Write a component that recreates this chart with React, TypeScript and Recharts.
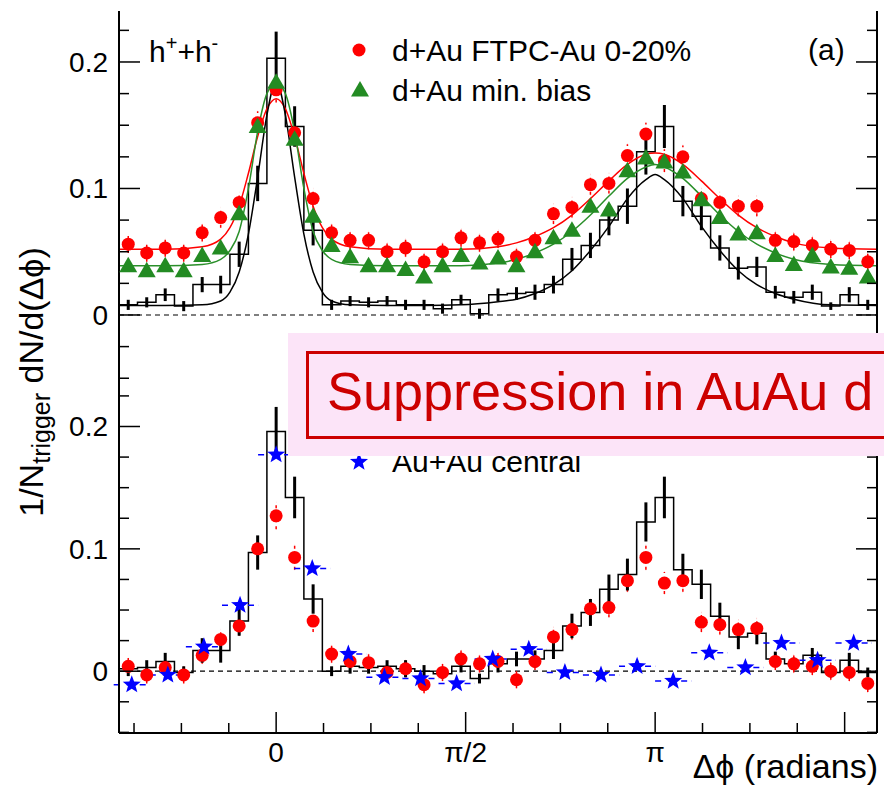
/**
 * Azimuthal correlation, d+Au vs Au+Au (two stacked panels)
 */

import React from "react";
import {
  ComposedChart,
  Scatter,
  Line,
  XAxis,
  YAxis,
  ErrorBar,
  ReferenceLine,
} from "recharts";

const FONT = '"Liberation Sans", Arial, Helvetica, sans-serif';
const PI = Math.PI;

// d+Au / p+p bins: 41 bins over 2pi, Au+Au central: 21 bins over 2pi
const BIN_W = (2 * PI) / 41;
const AA_BIN_W = (2 * PI) / 21;

const BIN_INDEX = [
  -8, -7, -6, -5, -4, -3, -2, -1, 0, 1, 2, 3, 4, 5, 6, 7, 8, 9, 10, 11, 12, 13,
  14, 15, 16, 17, 18, 19, 20, 21, 22, 23, 24, 25, 26, 27, 28, 29, 30, 31, 32,
];
const AA_BIN_INDEX = [
  -4, -3, -2, -1, 0, 1, 2, 3, 4, 5, 6, 7, 8, 9, 10, 11, 12, 13, 14, 15, 16,
];
// fit curves are read at these positions (in units of BIN_W)
const CURVE_BINS = [
  -8.5, -6, -4, -3, -2.5, -2, -1.5, -1, -0.5, 0, 0.5, 1, 1.5, 2, 2.5, 3, 4, 6,
  8, 10, 12, 13, 14, 15, 16, 17, 18, 19, 20, 20.5, 21, 22, 23, 24, 25, 26, 27,
  28, 30, 32.5,
];

// ---- panel (a), top
const TOP_FTPC = [
  0.056, 0.049, 0.053, 0.049, 0.065, 0.077, 0.089, 0.152, 0.178, 0.144, 0.092,
  0.065, 0.059, 0.059, 0.05, 0.053, 0.042, 0.05, 0.061, 0.057, 0.06, 0.046,
  0.059, 0.08, 0.085, 0.103, 0.104, 0.126, 0.143, 0.122, 0.125, 0.092, 0.089,
  0.086, 0.086, 0.059, 0.058, 0.055, 0.052, 0.051, 0.042,
];
const TOP_FTPC_ERR = [
  0.007, 0.007, 0.007, 0.007, 0.007, 0.008, 0.008, 0.009, 0.01, 0.009, 0.008,
  0.007, 0.007, 0.007, 0.007, 0.007, 0.007, 0.007, 0.007, 0.007, 0.007, 0.007,
  0.007, 0.008, 0.008, 0.008, 0.008, 0.009, 0.009, 0.009, 0.009, 0.008, 0.008,
  0.008, 0.008, 0.007, 0.007, 0.007, 0.007, 0.007, 0.007,
];
const TOP_MINBIAS = [
  0.039, 0.035, 0.039, 0.035, 0.047, 0.053, 0.08, 0.149, 0.184, 0.139, 0.078,
  0.055, 0.046, 0.039, 0.039, 0.036, 0.03, 0.039, 0.047, 0.041, 0.045, 0.039,
  0.05, 0.061, 0.067, 0.086, 0.083, 0.114, 0.124, 0.121, 0.113, 0.091, 0.077,
  0.064, 0.065, 0.047, 0.04, 0.047, 0.038, 0.037, 0.03,
];
const TOP_PP = [
  0.008, 0.01, 0.016, 0.007, 0.024, 0.024, 0.048, 0.104, 0.203, 0.149, 0.067,
  0.008, 0.011, 0.01, 0.011, 0.008, 0.008, 0.005, 0.012, 0.001, 0.016, 0.017,
  0.018, 0.024, 0.044, 0.055, 0.075, 0.086, 0.129, 0.149, 0.09, 0.078, 0.053,
  0.037, 0.038, 0.018, 0.014, 0.018, 0.007, 0.016, 0.008,
];
const TOP_PP_ERR = [
  0.004, 0.004, 0.005, 0.004, 0.006, 0.007, 0.01, 0.014, 0.021, 0.016, 0.012,
  0.004, 0.004, 0.004, 0.004, 0.004, 0.004, 0.004, 0.004, 0.004, 0.005, 0.005,
  0.006, 0.007, 0.009, 0.01, 0.012, 0.014, 0.018, 0.017, 0.012, 0.011, 0.01,
  0.009, 0.008, 0.005, 0.005, 0.006, 0.003, 0.006, 0.004,
];
const TOP_FTPC_FIT = [
  0.052, 0.052, 0.054, 0.06, 0.069, 0.086, 0.112, 0.141, 0.163, 0.171, 0.163,
  0.141, 0.112, 0.086, 0.069, 0.06, 0.054, 0.052, 0.052, 0.052, 0.054, 0.057,
  0.062, 0.069, 0.079, 0.092, 0.106, 0.119, 0.127, 0.128, 0.127, 0.119, 0.106,
  0.092, 0.079, 0.069, 0.062, 0.057, 0.053, 0.052,
];
const TOP_MINBIAS_FIT = [
  0.039, 0.039, 0.04, 0.044, 0.051, 0.066, 0.1, 0.145, 0.175, 0.183, 0.175,
  0.145, 0.1, 0.066, 0.051, 0.044, 0.04, 0.039, 0.039, 0.039, 0.041, 0.044,
  0.049, 0.056, 0.066, 0.079, 0.094, 0.108, 0.117, 0.119, 0.117, 0.108, 0.094,
  0.079, 0.066, 0.056, 0.049, 0.044, 0.04, 0.039,
];
const TOP_PP_FIT = [
  0.0075, 0.0075, 0.008, 0.011, 0.018, 0.034, 0.064, 0.109, 0.158, 0.185,
  0.158, 0.109, 0.064, 0.034, 0.018, 0.011, 0.008, 0.0075, 0.0075, 0.008,
  0.0105, 0.0125, 0.017, 0.024, 0.035, 0.051, 0.07, 0.092, 0.107, 0.111, 0.107,
  0.092, 0.07, 0.051, 0.035, 0.024, 0.017, 0.0125, 0.008, 0.0075,
];

// ---- bottom panel
const BOT_FTPC = [
  0.004, -0.003, 0.003, -0.003, 0.013, 0.026, 0.037, 0.1, 0.127, 0.093, 0.041,
  0.014, 0.008, 0.007, -0.001, 0.002, -0.011, -0.001, 0.01, 0.006, 0.008,
  -0.007, 0.008, 0.028, 0.034, 0.051, 0.052, 0.074, 0.093, 0.072, 0.074, 0.04,
  0.038, 0.034, 0.035, 0.008, 0.006, 0.004, 0.0, -0.001, -0.01,
];
const BOT_FTPC_ERR = [
  0.007, 0.007, 0.007, 0.007, 0.007, 0.008, 0.008, 0.01, 0.011, 0.01, 0.009,
  0.007, 0.007, 0.007, 0.007, 0.007, 0.007, 0.007, 0.007, 0.007, 0.007, 0.007,
  0.007, 0.008, 0.008, 0.008, 0.008, 0.009, 0.01, 0.009, 0.009, 0.008, 0.008,
  0.008, 0.008, 0.007, 0.007, 0.007, 0.007, 0.007, 0.007,
];
const BOT_PP = [
  0.002, 0.003, 0.008, -0.001, 0.017, 0.017, 0.041, 0.097, 0.196, 0.142, 0.059,
  0.0, 0.004, 0.003, 0.004, 0.002, 0.0, -0.002, 0.004, -0.006, 0.006, 0.01,
  0.01, 0.017, 0.037, 0.048, 0.067, 0.079, 0.122, 0.142, 0.083, 0.071, 0.045,
  0.028, 0.031, 0.01, 0.006, 0.013, -0.001, 0.009, -0.001,
];
const BOT_PP_ERR = [
  0.006, 0.006, 0.007, 0.005, 0.01, 0.01, 0.012, 0.014, 0.02, 0.017, 0.012,
  0.004, 0.006, 0.005, 0.005, 0.007, 0.005, 0.004, 0.005, 0.004, 0.007, 0.006,
  0.007, 0.007, 0.01, 0.011, 0.012, 0.013, 0.016, 0.017, 0.013, 0.012, 0.011,
  0.01, 0.009, 0.006, 0.005, 0.006, 0.004, 0.006, 0.004,
];
const AUAU_CENTRAL = [
  -0.011, -0.003, 0.02, 0.054, 0.177, 0.084, 0.014, -0.005, -0.006, -0.01,
  0.01, 0.018, -0.001, -0.003, 0.004, -0.008, 0.015, 0.003, 0.023, 0.009,
  0.023,
];

// axes
const X_MIN = -8.5 * BIN_W;
const X_MAX = 32.5 * BIN_W;
const X_TICKS = [-3, -2, -1, 0, 1, 2, 3, 4, 5, 6, 7, 8, 9, 10, 11, 12].map(
  (i) => (i * PI) / 8
);
const X_TICK_LABELS: Record<number, string> = { 0: "0", 4: "\u03c0/2", 8: "\u03c0" };
const Y_TICKS = [
  -0.05, -0.025, 0, 0.025, 0.05, 0.075, 0.1, 0.125, 0.15, 0.175, 0.2, 0.225,
];
const TOP_Y_DOMAIN = [-0.0514, 0.2403];
const BOT_Y_DOMAIN = [-0.0505, 0.238];

const pointsOf = (vals: number[], errs?: number[]) =>
  BIN_INDEX.map((k, i) => ({
    x: k * BIN_W,
    y: vals[i],
    err: errs ? errs[i] : 0,
  }));

const histOf = (vals: number[]) => [
  ...BIN_INDEX.map((k, i) => ({ x: (k - 0.5) * BIN_W, y: vals[i] })),
  { x: 32.5 * BIN_W, y: vals[vals.length - 1] },
];

const curveOf = (vals: number[]) =>
  CURVE_BINS.map((b, i) => ({ x: b * BIN_W, y: vals[i] }));

const auauData = AA_BIN_INDEX.map((j, i) => ({
  x: j * AA_BIN_W,
  y: AUAU_CENTRAL[i],
  xerr: AA_BIN_W / 2,
}));

// ---- markers
const RedDot = (p: any) => <circle cx={p.cx} cy={p.cy} r={6.5} fill="#ff0000" />;

const GreenTriangle = (p: any) => (
  <path
    d={`M${p.cx},${p.cy - 9} L${p.cx + 9},${p.cy + 6.5} L${p.cx - 9},${p.cy + 6.5} Z`}
    fill="#238b23"
  />
);

const starPath = (cx: number, cy: number, ro: number, ri: number) => {
  const pts: string[] = [];
  for (let i = 0; i < 10; i++) {
    const r = i % 2 === 0 ? ro : ri;
    const a = -PI / 2 + (i * PI) / 5;
    pts.push(`${cx + r * Math.cos(a)},${cy + r * Math.sin(a)}`);
  }
  return `M${pts.join(" L")} Z`;
};

const BlueStar = (p: any) => <path d={starPath(p.cx, p.cy, 9.5, 4)} fill="#0000ff" />;

const NoMarker = () => <g />;

// ---- ticks (ROOT style, pointing inwards)
const isMajorY = (v: number) => Math.abs(v * 10 - Math.round(v * 10)) < 1e-6;

const LeftYTick = (props: any) => {
  const { x, y, payload } = props;
  const v = payload.value;
  const major = isMajorY(v);
  return (
    <g>
      <line x1={x} x2={x + (major ? 21 : 10)} y1={y} y2={y} stroke="#000" strokeWidth={1.5} />
      {major && (
        <text x={x - 11} y={y + 10} textAnchor="end" fontSize={28} fontFamily={FONT} fill="#000">
          {v === 0 ? "0" : v.toFixed(1)}
        </text>
      )}
    </g>
  );
};

const RightYTick = (props: any) => {
  const { x, y, payload } = props;
  const major = isMajorY(payload.value);
  return (
    <line x1={x} x2={x - (major ? 21 : 10)} y1={y} y2={y} stroke="#000" strokeWidth={1.5} />
  );
};

const makeXTick = (withLabels: boolean) => (props: any) => {
  const { x, y, payload } = props;
  const idx = Math.round(payload.value / (PI / 8));
  const major = idx % 4 === 0;
  const label = X_TICK_LABELS[idx];
  return (
    <g>
      <line x1={x} x2={x} y1={y} y2={y - (major ? 21 : 10)} stroke="#000" strokeWidth={1.5} />
      {withLabels && label && (
        <text x={x} y={y + 29} textAnchor="middle" fontSize={28} fontFamily={FONT} fill="#000">
          {label}
        </text>
      )}
    </g>
  );
};

const TopXTick = makeXTick(false);
const BottomXTick = makeXTick(true);

const axisLine = { stroke: "#000", strokeWidth: 2 };

export default function App() {
  const topFtpc = pointsOf(TOP_FTPC, TOP_FTPC_ERR);
  const topMb = pointsOf(TOP_MINBIAS);
  const topPp = pointsOf(TOP_PP, TOP_PP_ERR);
  const botFtpc = pointsOf(BOT_FTPC, BOT_FTPC_ERR);
  const botPp = pointsOf(BOT_PP, BOT_PP_ERR);

  return (
    <div
      style={{
        position: "absolute",
        left: 0,
        top: 0,
        width: 884,
        height: 788,
        overflow: "hidden",
        background: "#fff",
        fontFamily: FONT,
      }}
    >
      {/* panel (a) */}
      <div style={{ position: "absolute", left: 0, top: 0 }}>
        <ComposedChart width={884} height={382} margin={{ top: 11, right: 0, bottom: 2, left: 0 }}>
          <XAxis
            type="number"
            dataKey="x"
            domain={[X_MIN, X_MAX]}
            allowDataOverflow
            ticks={X_TICKS}
            interval={0}
            height={0}
            tickLine={false}
            tickSize={0}
            tickMargin={0}
            tick={TopXTick}
            axisLine={axisLine}
          />
          <XAxis
            xAxisId="top"
            orientation="top"
            type="number"
            dataKey="x"
            domain={[X_MIN, X_MAX]}
            allowDataOverflow
            height={0}
            tick={false}
            tickLine={false}
            axisLine={axisLine}
          />
          <YAxis
            yAxisId="left"
            type="number"
            dataKey="y"
            domain={TOP_Y_DOMAIN}
            allowDataOverflow
            ticks={Y_TICKS}
            interval={0}
            width={119}
            tickLine={false}
            tickSize={0}
            tickMargin={0}
            tick={LeftYTick}
            axisLine={axisLine}
          />
          <YAxis
            yAxisId="right"
            orientation="right"
            type="number"
            dataKey="y"
            domain={TOP_Y_DOMAIN}
            allowDataOverflow
            ticks={Y_TICKS}
            interval={0}
            width={7}
            tickLine={false}
            tickSize={0}
            tickMargin={0}
            tick={RightYTick}
            axisLine={axisLine}
          />
          <ReferenceLine yAxisId="left" y={0} stroke="#000" strokeWidth={1.2} strokeDasharray="5 4" />
          <Scatter yAxisId="left" data={topFtpc} shape={RedDot} isAnimationActive={false}>
            <ErrorBar dataKey="err" direction="y" width={0} stroke="#ff0000" strokeWidth={1.5} strokeDasharray="3 4" />
          </Scatter>
          <Scatter yAxisId="left" data={topMb} shape={GreenTriangle} isAnimationActive={false} />
          <Line
            yAxisId="left"
            data={histOf(TOP_PP)}
            dataKey="y"
            type="stepAfter"
            stroke="#000"
            strokeWidth={1.5}
            dot={false}
            activeDot={false}
            isAnimationActive={false}
          />
          <Scatter yAxisId="left" data={topPp} shape={NoMarker} isAnimationActive={false}>
            <ErrorBar dataKey="err" direction="y" width={0} stroke="#000" strokeWidth={3} />
          </Scatter>
          <Line
            yAxisId="left"
            data={curveOf(TOP_FTPC_FIT)}
            dataKey="y"
            type="monotone"
            stroke="#ff0000"
            strokeWidth={1.5}
            dot={false}
            activeDot={false}
            isAnimationActive={false}
          />
          <Line
            yAxisId="left"
            data={curveOf(TOP_MINBIAS_FIT)}
            dataKey="y"
            type="monotone"
            stroke="#2a8f2a"
            strokeWidth={1.5}
            dot={false}
            activeDot={false}
            isAnimationActive={false}
          />
          <Line
            yAxisId="left"
            data={curveOf(TOP_PP_FIT)}
            dataKey="y"
            type="monotone"
            stroke="#000"
            strokeWidth={1.5}
            dot={false}
            activeDot={false}
            isAnimationActive={false}
          />
        </ComposedChart>
      </div>

      {/* bottom panel */}
      <div style={{ position: "absolute", left: 0, top: 380 }}>
        <ComposedChart width={884} height={408} margin={{ top: 0, right: 0, bottom: 0, left: 0 }}>
          <XAxis
            type="number"
            dataKey="x"
            domain={[X_MIN, X_MAX]}
            allowDataOverflow
            ticks={X_TICKS}
            interval={0}
            height={55}
            tickLine={false}
            tickSize={0}
            tickMargin={0}
            tick={BottomXTick}
            axisLine={axisLine}
          />
          <YAxis
            yAxisId="left"
            type="number"
            dataKey="y"
            domain={BOT_Y_DOMAIN}
            allowDataOverflow
            ticks={Y_TICKS}
            interval={0}
            width={119}
            tickLine={false}
            tickSize={0}
            tickMargin={0}
            tick={LeftYTick}
            axisLine={axisLine}
          />
          <YAxis
            yAxisId="right"
            orientation="right"
            type="number"
            dataKey="y"
            domain={BOT_Y_DOMAIN}
            allowDataOverflow
            ticks={Y_TICKS}
            interval={0}
            width={7}
            tickLine={false}
            tickSize={0}
            tickMargin={0}
            tick={RightYTick}
            axisLine={axisLine}
          />
          <ReferenceLine yAxisId="left" y={0} stroke="#000" strokeWidth={1.2} strokeDasharray="5 4" />
          <Scatter yAxisId="left" data={botFtpc} shape={RedDot} isAnimationActive={false}>
            <ErrorBar dataKey="err" direction="y" width={0} stroke="#ff0000" strokeWidth={1.5} strokeDasharray="3 4" />
          </Scatter>
          <Line
            yAxisId="left"
            data={histOf(BOT_PP)}
            dataKey="y"
            type="stepAfter"
            stroke="#000"
            strokeWidth={1.5}
            dot={false}
            activeDot={false}
            isAnimationActive={false}
          />
          <Scatter yAxisId="left" data={botPp} shape={NoMarker} isAnimationActive={false}>
            <ErrorBar dataKey="err" direction="y" width={0} stroke="#000" strokeWidth={3} />
          </Scatter>
          <Scatter yAxisId="left" data={auauData} shape={BlueStar} isAnimationActive={false}>
            <ErrorBar dataKey="xerr" direction="x" width={0} stroke="#0000ff" strokeWidth={1.5} strokeDasharray="6 7" />
          </Scatter>
        </ComposedChart>
      </div>

      {/* legends and axis titles */}
      <svg
        width={884}
        height={788}
        style={{ position: "absolute", left: 0, top: 0, pointerEvents: "none" }}
      >
        <g fontFamily={FONT} fill="#000">
          <text x={149} y={62} fontSize={30}>
            h<tspan dy={-12} fontSize={20}>+</tspan>
            <tspan dy={12}>+h</tspan>
            <tspan dy={-12} fontSize={20}>-</tspan>
          </text>
          <circle cx={359} cy={50} r={6.5} fill="#ff0000" />
          <text x={392} y={61} fontSize={30}>d+Au FTPC-Au 0-20%</text>
          <GreenTriangle cx={360} cy={90} />
          <text x={392} y={101} fontSize={30}>d+Au min. bias</text>
          <text x={808} y={60} fontSize={30}>(a)</text>

          <BlueStar cx={359} cy={462} />
          <text x={392} y={472} fontSize={30}>Au+Au central</text>

          <text x={878} y={778} fontSize={34} textAnchor="end">
            {"\u0394\u03d5 (radians)"}
          </text>

          <text x={43} y={382} fontSize={34} textAnchor="middle" transform="rotate(-90 43 382)">
            1/N<tspan dy={7} fontSize={25}>trigger</tspan>
            <tspan dy={-7}>{" dN/d(\u0394\u03d5)"}</tspan>
          </text>
        </g>

        {/* highlight banner laid over the figure */}
        <rect x={288} y={333} width={600} height={123} fill="#fce4f8" />
        <rect x={307.5} y={352.5} width={600} height={85} fill="none" stroke="#cc0000" strokeWidth={3} />
        <text x={327} y={410} fontSize={54} fontFamily={FONT} fill="#cc0000">
          Suppression in AuAu d
        </text>
      </svg>
    </div>
  );
}
